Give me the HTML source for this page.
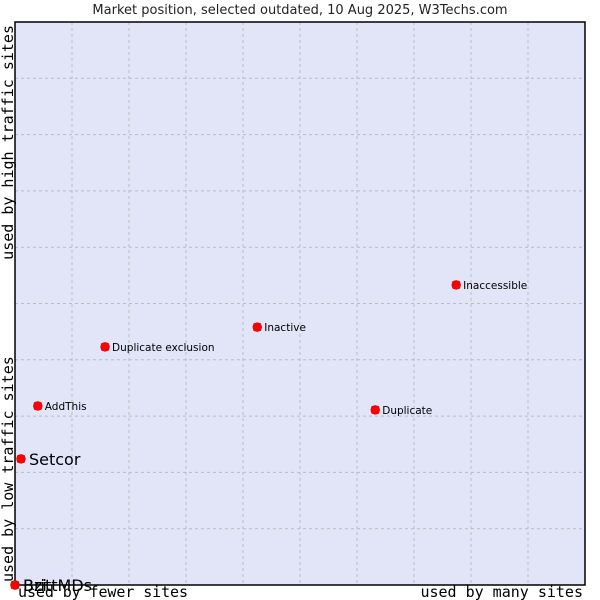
<!DOCTYPE html>
<html><head><meta charset="utf-8"><style>
body{margin:0;background:#fff;}
svg{display:block;font-family:"DejaVu Sans","Liberation Sans",sans-serif;}
</style></head><body>
<svg id="chart" width="600" height="600">
<rect x="15" y="22" width="570" height="563" fill="#e2e4f8"/>
<g id="grid"></g>
<rect x="15" y="22" width="570" height="563" fill="none" stroke="#000" stroke-width="1.5"/>
<text x="300" y="14" text-anchor="middle" font-size="13" fill="#222">Market position, selected outdated, 10 Aug 2025, W3Techs.com</text>
<text x="18" y="597" font-family="DejaVu Sans Mono,Liberation Mono,monospace" font-size="15" textLength="170" fill="#000">used by fewer sites</text>
<text x="583" y="597" text-anchor="end" font-family="DejaVu Sans Mono,Liberation Mono,monospace" font-size="15" fill="#000">used by many sites</text>
<text transform="translate(13,582) rotate(-90)" font-family="DejaVu Sans Mono,Liberation Mono,monospace" font-size="15" fill="#000">used by low traffic sites</text>
<text transform="translate(13,25) rotate(-90)" text-anchor="end" font-family="DejaVu Sans Mono,Liberation Mono,monospace" font-size="15" fill="#000">used by high traffic sites</text>
<g id="points"></g>
</svg>
<script>
const names = ["Bzi","BrittMDs","Setcor","AddThis","Duplicate exclusion","Inactive","Duplicate","Inaccessible"];
const xValues = [0,0,1.05,4.0,15.8,42.5,63.2,77.4];
const yValues = [0,0,22.4,31.8,42.3,45.8,31.1,53.3];
const labelSizes = [16,16,16,10.5,10.5,10.5,10.5,10.5];
const X0=15,X1=585,Y0=585,Y1=22;
function sx(v){return X0+v/100*(X1-X0);}
function sy(v){return Y0-v/100*(Y0-Y1);}
const NS="http://www.w3.org/2000/svg";
const grid=document.getElementById('grid');
for(let i=1;i<10;i++){
  const x=sx(i*10);
  const l=document.createElementNS(NS,'line');
  l.setAttribute('x1',x);l.setAttribute('x2',x);l.setAttribute('y1',Y1);l.setAttribute('y2',Y0);
  l.setAttribute('stroke','#bbb');l.setAttribute('stroke-dasharray','3,3');
  
  
  grid.appendChild(l);
  const y=sy(i*10);
  const h=document.createElementNS(NS,'line');
  h.setAttribute('x1',X0);h.setAttribute('x2',X1);h.setAttribute('y1',y);h.setAttribute('y2',y);
  h.setAttribute('stroke','#bbb');h.setAttribute('stroke-dasharray','3,3');
  
  
  grid.appendChild(h);
}
const pts=document.getElementById('points');
names.forEach((n,i)=>{
  const x=sx(xValues[i]),y=sy(yValues[i]);
  const g=document.createElementNS(NS,'g');
  
  
  const c=document.createElementNS(NS,'path');
  c.setAttribute('d',`M${x} ${y-4.5}L${x+3.5} ${y-3.5}L${x+4.5} ${y}L${x+3.5} ${y+3.5}L${x} ${y+4.5}L${x-3.5} ${y+3.5}L${x-4.5} ${y}L${x-3.5} ${y-3.5}Z`);
  c.setAttribute('fill','#f00');c.setAttribute('stroke','#c00');c.setAttribute('stroke-width','0.5');
  g.appendChild(c);
  const t=document.createElementNS(NS,'text');
  const big=labelSizes[i]>12;
  t.setAttribute('x',x+(big?8:7));t.setAttribute('y',y+(big?6:4));
  t.setAttribute('font-size',labelSizes[i]);t.setAttribute('fill','#000');
  t.textContent=n;
  
  
  g.appendChild(t);
  pts.appendChild(g);
});
</script>
</body></html>
